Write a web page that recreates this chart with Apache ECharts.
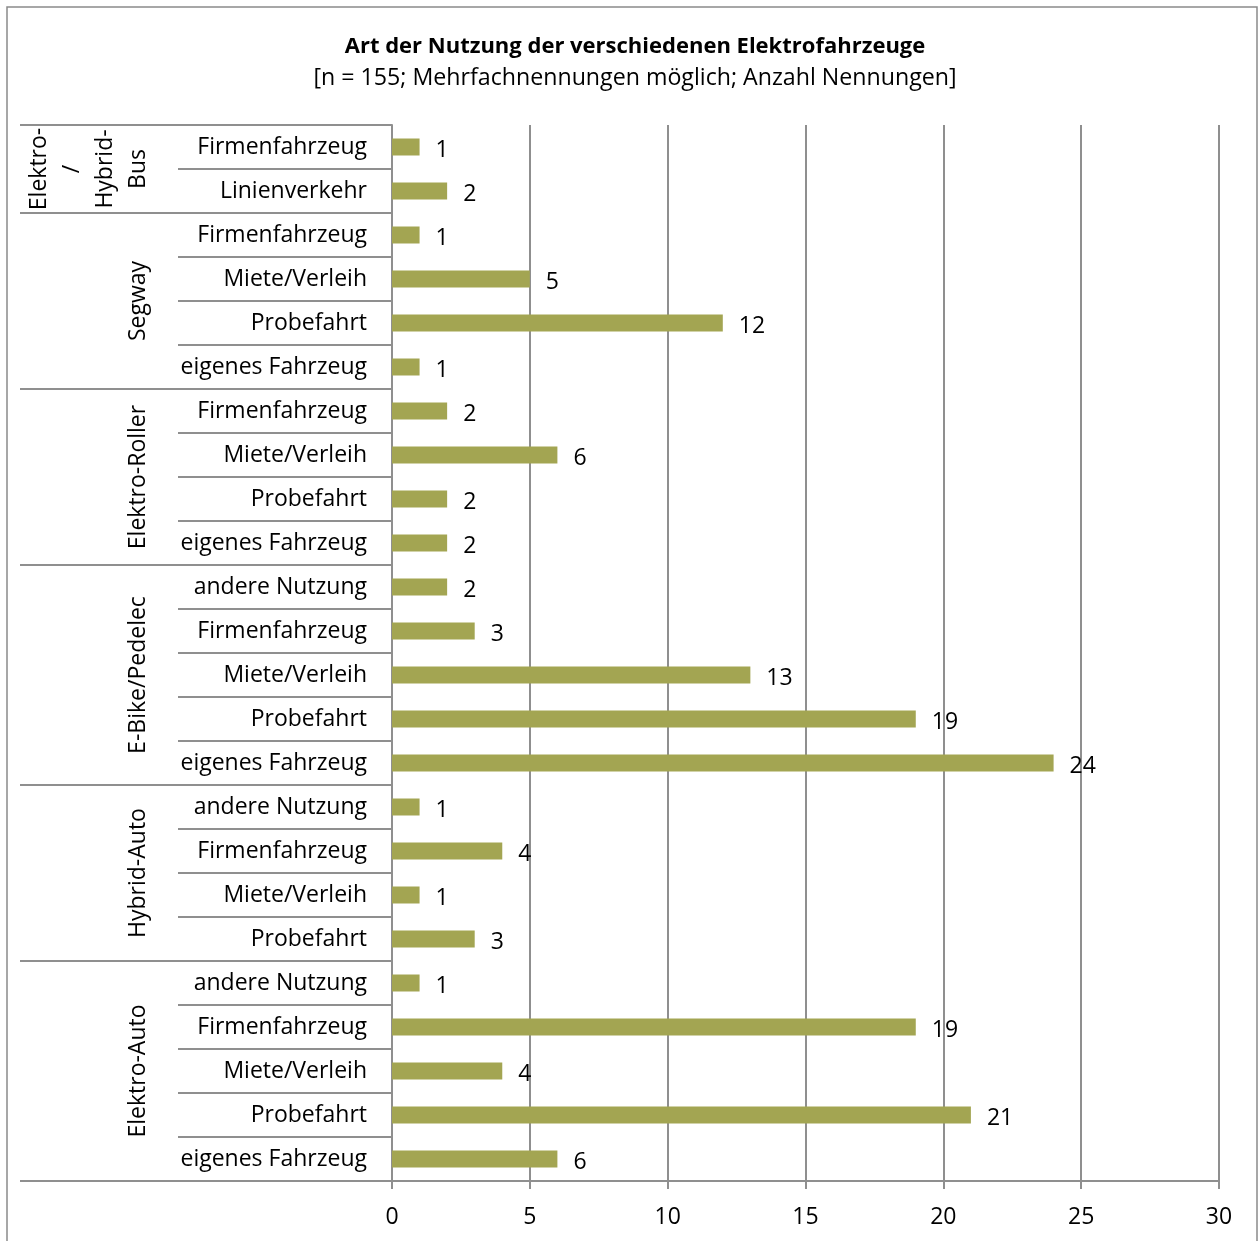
<!DOCTYPE html>
<html>
<head>
<meta charset="utf-8">
<script src="https://cdn.jsdelivr.net/npm/echarts@6/dist/echarts.min.js"></script>
<style>
  html, body { margin: 0; background: #fff; }
  #main { width: 1259px; height: 1241px; }
</style>
</head>
<body>
<div id="main"></div>
<script>
// groups, top to bottom
const groups = ['Elektro-\n/\nHybrid-\nBus', 'Segway', 'Elektro-Roller', 'E-Bike/Pedelec', 'Hybrid-Auto', 'Elektro-Auto'];
const groupSizes = [2, 4, 4, 5, 4, 5];

const categories = [
  'Firmenfahrzeug', 'Linienverkehr',
  'Firmenfahrzeug', 'Miete/Verleih', 'Probefahrt', 'eigenes Fahrzeug',
  'Firmenfahrzeug', 'Miete/Verleih', 'Probefahrt', 'eigenes Fahrzeug',
  'andere Nutzung', 'Firmenfahrzeug', 'Miete/Verleih', 'Probefahrt', 'eigenes Fahrzeug',
  'andere Nutzung', 'Firmenfahrzeug', 'Miete/Verleih', 'Probefahrt',
  'andere Nutzung', 'Firmenfahrzeug', 'Miete/Verleih', 'Probefahrt', 'eigenes Fahrzeug'
];
const values = [
  1, 2,
  1, 5, 12, 1,
  2, 6, 2, 2,
  2, 3, 13, 19, 24,
  1, 4, 1, 3,
  1, 19, 4, 21, 6
];
const xTicks = [0, 30, 5]; // min, max, interval

const font = "'Open Sans', sans-serif";
const gray = '#8f8f8f';

const chart = echarts.init(document.getElementById('main'));
const option = {
  animation: false,
  title: {
    text: 'Art der Nutzung der verschiedenen Elektrofahrzeuge',
    subtext: '[n = 155; Mehrfachnennungen möglich; Anzahl Nennungen]',
    left: 630,
    top: 31,
    textAlign: 'center',
    itemGap: 9,
    textStyle: { fontFamily: font, fontSize: 22, fontWeight: 'bold', color: '#000' },
    subtextStyle: { fontFamily: font, fontSize: 23.2, color: '#000' }
  },
  grid: { left: 392, right: 40, top: 125, bottom: 60 },
  xAxis: {
    type: 'value',
    min: xTicks[0],
    max: xTicks[1],
    interval: xTicks[2],
    axisLine: { show: true, lineStyle: { color: gray, width: 2 } },
    axisTick: { show: true, length: 8, lineStyle: { color: gray, width: 2 } },
    splitLine: { show: true, lineStyle: { color: gray, width: 2 } },
    axisLabel: { fontFamily: font, fontSize: 23, color: '#000', margin: 25 }
  },
  yAxis: {
    type: 'category',
    inverse: true,
    data: categories,
    axisLine: { show: true, lineStyle: { color: gray, width: 2 } },
    axisTick: { show: true, length: 214, lineStyle: { color: gray, width: 2 } },
    axisLabel: { fontFamily: font, fontSize: 23, color: '#000', margin: 25, padding: [6, 0, 0, 0] }
  },
  series: [{
    type: 'bar',
    data: values,
    barWidth: 17,
    itemStyle: { color: '#a3a552' },
    label: {
      show: true,
      position: 'right',
      distance: 16,
      offset: [0, 3],
      fontFamily: font,
      fontSize: 23,
      color: '#000'
    }
  }]
};
chart.setOption(option);

// group separators and rotated group labels
const p0 = chart.convertToPixel({ yAxisIndex: 0 }, 0);
const p1 = chart.convertToPixel({ yAxisIndex: 0 }, 1);
const bw = p1 - p0;
const boundary = k => p0 + (k - 0.5) * bw;

const elements = [{
  type: 'rect',
  shape: { x: 7, y: 7, width: 1250, height: 1250 },
  style: { fill: 'none', stroke: '#8a8a8a', lineWidth: 1.5 },
  silent: true
}];
let start = 0;
const bounds = [0];
groupSizes.forEach((n, i) => {
  const end = start + n;
  bounds.push(end);
  elements.push({
    type: 'text',
    x: 155,
    y: (boundary(start) + boundary(end)) / 2,
    rotation: Math.PI / 2,
    style: {
      text: groups[i],
      fontFamily: font,
      fontSize: 23,
      lineHeight: 33,
      fill: '#000',
      align: 'center',
      verticalAlign: 'bottom'
    }
  });
  start = end;
});
bounds.forEach(k => {
  elements.push({
    type: 'line',
    shape: { x1: 20, y1: boundary(k), x2: 179, y2: boundary(k) },
    style: { stroke: gray, lineWidth: 2 }
  });
});
chart.setOption({ graphic: { elements } });
</script>
</body>
</html>
